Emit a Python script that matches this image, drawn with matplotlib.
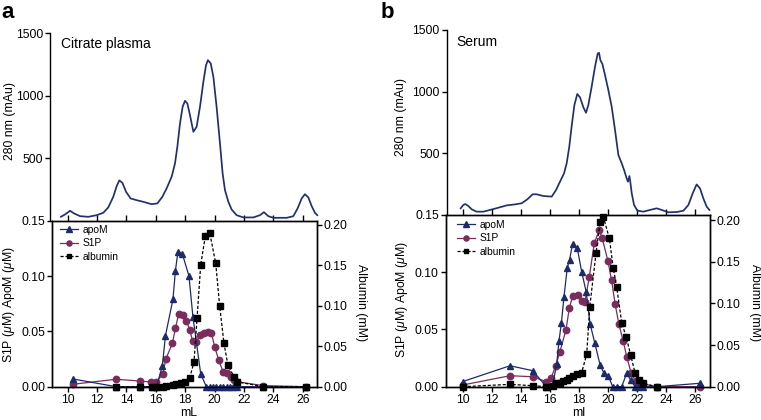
import matplotlib
matplotlib.use("Agg")
import matplotlib.pyplot as plt

plt.rcParams['font.family'] = ['Liberation Sans', 'DejaVu Sans']
plt.rcParams['mathtext.fontset'] = 'custom'
plt.rcParams['mathtext.it'] = 'Liberation Sans:italic'
plt.rcParams['mathtext.rm'] = 'Liberation Sans'

# ---------------- data ----------------
# Panel a: Citrate plasma, UV trace (280 nm, mAu)
a_uv_ml = [9.54, 9.82, 10.16, 10.43, 10.84, 11.40, 11.97, 12.42, 12.76, 13.10, 13.33, 13.51,
           13.72, 13.97, 14.28, 14.69, 15.14, 15.71, 16.10, 16.44, 16.73, 17.07, 17.30, 17.46,
           17.64, 17.82, 17.98, 18.14, 18.32, 18.55, 18.77, 19.00, 19.23, 19.41, 19.54, 19.73,
           19.91, 20.13, 20.36, 20.54, 20.70, 20.93, 21.15, 21.49, 21.95, 22.63, 23.08, 23.35,
           23.65, 23.99, 24.90, 25.35, 25.64, 25.92, 26.14, 26.37, 26.60, 26.82, 26.98]
a_uv_mau = [32, 51, 80, 59, 37, 32, 45, 64, 107, 192, 277, 323,
            304, 232, 179, 165, 152, 133, 139, 192, 259, 352, 459, 592,
            779, 912, 960, 939, 845, 712, 752, 912, 1112, 1245, 1285, 1259,
            1152, 912, 619, 379, 245, 152, 91, 45, 27, 27, 45, 69,
            37, 24, 24, 37, 99, 179, 213, 187, 117, 64, 45]

# Panel a: fractions
a_apom_ml = [10.35, 13.3, 14.95, 15.75, 16.05, 16.44, 16.65, 17.16, 17.33, 17.5, 17.8, 18.25,
             18.52, 19.05, 19.43, 19.66, 19.89, 20.12, 20.35, 20.58, 20.81, 21.04, 21.27, 21.5,
             23.3, 26.2]
a_apom = [0.007, 0.0, 0.0, 0.0, 0.0, 0.019, 0.046, 0.079, 0.105, 0.122, 0.120, 0.100,
          0.063, 0.0115, 0.0, 0.0, 0.0, 0.0, 0.0, 0.0, 0.0, 0.0, 0.0, 0.0,
          0.0, 0.0]
a_s1p_ml = [10.36, 13.27, 14.95, 15.69, 16.03, 16.48, 16.67, 17.12, 17.33, 17.55, 17.84, 18.07,
            18.3, 18.5, 18.75, 19.02, 19.27, 19.54, 19.78, 20.0, 20.27, 20.57, 20.86, 21.09,
            21.3, 21.5, 23.29, 26.2]
a_s1p = [0.0022, 0.0067, 0.0051, 0.0042, 0.0042, 0.0115, 0.0248, 0.0392, 0.0528, 0.0657, 0.0648, 0.0596,
         0.0512, 0.0413, 0.0407, 0.0467, 0.0488, 0.0497, 0.0482, 0.0361, 0.0241, 0.0136, 0.0127, 0.009,
         0.006, 0.0045, 0.001, 0.0]
a_alb_ml = [13.3, 14.95, 15.75, 16.03, 16.48, 16.71, 17.16, 17.39, 17.73, 17.96, 18.3, 18.59,
            18.8, 19.05, 19.37, 19.66, 20.07, 20.34, 20.63, 20.9, 21.31, 21.54, 23.3, 26.2]
a_alb = [0.0, 0.0, 0.0, 0.0, 0.0, 0.0008, 0.0025, 0.0037, 0.005, 0.0062, 0.011, 0.0302,
         0.0846, 0.151, 0.1868, 0.1905, 0.1526, 0.0998, 0.0537, 0.0268, 0.0124, 0.006, 0.0, 0.0]

# Panel b: Serum, UV trace
b_uv_ml = [9.86, 10.04, 10.18, 10.39, 10.62, 10.96, 11.42, 11.88, 12.45, 13.03, 13.60, 14.06,
           14.45, 14.82, 15.09, 15.55, 16.13, 16.43, 16.70, 16.98, 17.16, 17.34, 17.50, 17.69,
           17.89, 18.08, 18.31, 18.49, 18.65, 18.88, 19.11, 19.30, 19.39, 19.48, 19.62, 19.80,
           20.03, 20.26, 20.49, 20.72, 20.95, 21.13, 21.29, 21.38, 21.48, 21.54, 21.64, 21.80,
           22.03, 22.44, 22.90, 23.36, 23.70, 24.16, 24.74, 25.20, 25.54, 25.84, 26.11, 26.34,
           26.57, 26.80, 26.99]
b_uv_mau = [54, 81, 89, 73, 46, 27, 27, 41, 59, 78, 86, 95,
            127, 168, 168, 154, 149, 203, 270, 338, 419, 554, 716, 891,
            981, 954, 873, 829, 891, 1040, 1202, 1310, 1315, 1256, 1224, 1135,
            1013, 878, 689, 486, 419, 359, 297, 270, 316, 270, 176, 81,
            35, 27, 41, 54, 41, 22, 24, 35, 81, 176, 248, 216,
            135, 68, 41]

b_apom_ml = [10.0, 13.26, 14.82, 15.76, 16.2, 16.47, 16.63, 16.8, 16.97, 17.2, 17.36, 17.57,
             17.89, 18.2, 18.5, 18.77, 19.1, 19.46, 19.73, 20.03, 20.33, 20.6, 20.95, 21.29,
             21.57, 21.87, 22.1, 22.44, 23.36, 26.36]
b_apom = [0.0045, 0.0183, 0.014, 0.0, 0.002, 0.0195, 0.040, 0.056, 0.078, 0.104, 0.111, 0.125,
          0.121, 0.100, 0.083, 0.055, 0.038, 0.019, 0.0117, 0.0093, 0.0, 0.0, 0.0, 0.0117,
          0.0058, 0.0, 0.0, 0.0, 0.0, 0.003]
b_s1p_ml = [10.0, 13.26, 14.82, 15.76, 16.1, 16.4, 16.68, 17.11, 17.34, 17.57, 17.91, 18.19,
            18.42, 18.72, 19.06, 19.41, 19.6, 20.0, 20.25, 20.5, 20.75, 21.05, 21.3, 21.6,
            21.9, 22.2, 23.36, 26.36]
b_s1p = [0.0015, 0.0096, 0.0087, 0.0044, 0.008, 0.018, 0.030, 0.0495, 0.0685, 0.0792, 0.080, 0.0751,
         0.0743, 0.0961, 0.1253, 0.1369, 0.130, 0.110, 0.093, 0.072, 0.055, 0.040, 0.026, 0.012,
         0.005, 0.003, 0.0, 0.0]
b_alb_ml = [10.0, 13.26, 14.82, 15.76, 16.2, 16.45, 16.7, 16.93, 17.15, 17.34, 17.62, 17.89,
            18.19, 18.54, 18.75, 19.18, 19.46, 19.68, 20.1, 20.37, 20.6, 20.95, 21.25, 21.57,
            21.87, 22.17, 22.44, 23.36]
b_alb = [0.0, 0.0028, 0.0012, 0.0, 0.001, 0.004, 0.005, 0.0068, 0.0085, 0.01, 0.0128, 0.015,
         0.0168, 0.039, 0.096, 0.160, 0.198, 0.204, 0.178, 0.142, 0.12, 0.077, 0.06, 0.038,
         0.016, 0.008, 0.004, 0.0]

x_ticks = [10, 12, 14, 16, 18, 20, 22, 24, 26]
uv_ticks = [500, 1000, 1500]
left_ticks = [0.0, 0.05, 0.10, 0.15]
right_ticks = [0.0, 0.05, 0.10, 0.15, 0.20]

NAVY = '#1d2a6b'
MAROON = '#7a2c5d'
UVCOL = '#22306e'
TICKSIZE = 8.7

W, H = 761, 420
fig = plt.figure(figsize=(W / 100, H / 100), dpi=100)


def fx(px):
    return px / W


def fy(py):
    return 1 - py / H


def panel(top_box, bot_box, top_xlim, bot_xlim, right_top, uv_x, uv_y, apx, apy, s1x, s1y, alx, aly,
          title, tlabel_xy, letter, letter_xy, ylab_uv_xy, ylab_bot_xy, ylab_r_xy, xlab, xlab_xy, leg_anchor):
    # box: (left_px, top_px, right_px, bottom_px)
    l, t, r, b = bot_box
    axb = fig.add_axes([fx(l), fy(b), (r - l) / W, (b - t) / H])
    l2, t2, r2, b2 = top_box
    axt = fig.add_axes([fx(l2), fy(b2), (r2 - l2) / W, (b2 - t2) / H])
    axt.patch.set_alpha(0)

    # top UV trace
    axt.plot(uv_x, uv_y, color=UVCOL, lw=1.25, clip_on=False)
    axt.set_xlim(*top_xlim)
    axt.set_ylim(0, 1500)
    for s in ['top', 'right', 'bottom']:
        axt.spines[s].set_visible(False)
    axt.spines['left'].set_linewidth(1.0)
    axt.set_yticks(uv_ticks)
    axt.set_yticklabels([str(v) for v in uv_ticks])
    axt.set_xticks(x_ticks)
    axt.tick_params(axis='x', direction='in', length=4, width=1.0, labelbottom=False)
    axt.tick_params(axis='y', direction='out', length=3.5, width=1.0, labelsize=TICKSIZE, pad=1.5)
    fig.text(fx(tlabel_xy[0]), fy(tlabel_xy[1]), title, fontsize=10, ha='left', va='top')

    # bottom axes
    l_ap, = axb.plot(apx, apy, color=NAVY, lw=0.9, marker='^', ms=4.6, mec=NAVY, mfc=NAVY,
                     label='apoM', clip_on=False, zorder=3)
    l_s1, = axb.plot(s1x, s1y, color=MAROON, lw=0.9, marker='o', ms=4.6, mec=MAROON, mfc=MAROON,
                     label='S1P', clip_on=False, zorder=2)
    axb.set_xlim(*bot_xlim)
    axb.set_ylim(0, 0.15)
    axb.set_xticks(x_ticks)
    axb.set_xticklabels([str(v) for v in x_ticks])
    axb.set_yticks(left_ticks)
    axb.set_yticklabels(['%.2f' % v for v in left_ticks])
    axb.tick_params(direction='out', length=3.5, width=1.0, labelsize=TICKSIZE, pad=1.5)
    for s in axb.spines.values():
        s.set_linewidth(1.0)

    axr = axb.twinx()
    l_al, = axr.plot(alx, aly, color='black', lw=0.9, ls=(0, (2.5, 1.5)), marker='s', ms=3.9,
                     mec='black', mfc='black', label='albumin', clip_on=False, zorder=4)
    axr.set_ylim(0, right_top)
    axr.set_yticks(right_ticks)
    axr.set_yticklabels(['%.2f' % v for v in right_ticks])
    axr.tick_params(direction='out', length=3.5, width=1.0, labelsize=TICKSIZE, pad=1.5)
    for s in axr.spines.values():
        s.set_linewidth(1.0)

    axr.legend([l_ap, l_s1, l_al], ['apoM', 'S1P', 'albumin'], loc='upper left',
               bbox_to_anchor=leg_anchor, frameon=False, fontsize=7.4, borderpad=0,
               borderaxespad=0, handlelength=1.8, handletextpad=0.45, labelspacing=0.33,
               markerscale=0.8)

    fig.text(fx(letter_xy[0]), fy(letter_xy[1]), letter, fontsize=16, fontweight='bold',
             ha='left', va='top')
    fig.text(fx(ylab_uv_xy[0]), fy(ylab_uv_xy[1]), '280 nm (mAu)', fontsize=8.8, rotation=90,
             ha='center', va='center')
    fig.text(fx(ylab_bot_xy[0]), fy(ylab_bot_xy[1]), r'S1P ($\mu$M) ApoM ($\mu$M)', fontsize=8.8,
             rotation=90, ha='center', va='center')
    fig.text(fx(ylab_r_xy[0]), fy(ylab_r_xy[1]), 'Albumin (mM)', fontsize=8.8, rotation=270,
             ha='center', va='center')
    fig.text(fx(xlab_xy[0]), fy(xlab_xy[1]), xlab, fontsize=9, ha='center', va='center')


# Panel a
panel(top_box=(50, 33.3, 316.7, 220.8), bot_box=(52, 220.7, 316.7, 386.7),
      top_xlim=(8.796, 26.94), bot_xlim=(8.932, 26.94), right_top=0.2053,
      uv_x=a_uv_ml, uv_y=a_uv_mau, apx=a_apom_ml, apy=a_apom, s1x=a_s1p_ml, s1y=a_s1p,
      alx=a_alb_ml, aly=a_alb, title='Citrate plasma', tlabel_xy=(61, 37),
      letter='a', letter_xy=(1, 2), ylab_uv_xy=(10, 121), ylab_bot_xy=(9, 305),
      ylab_r_xy=(361, 303), xlab='mL', xlab_xy=(189, 413), leg_anchor=(0.03, 0.975))

# Panel b
panel(top_box=(446.7, 30, 710, 215), bot_box=(445.7, 215, 710, 386.7),
      top_xlim=(8.898, 27.03), bot_xlim=(8.829, 27.03), right_top=0.206,
      uv_x=b_uv_ml, uv_y=b_uv_mau, apx=b_apom_ml, apy=b_apom, s1x=b_s1p_ml, s1y=b_s1p,
      alx=b_alb_ml, aly=b_alb, title='Serum', tlabel_xy=(456, 35),
      letter='b', letter_xy=(381, 2), ylab_uv_xy=(401, 117), ylab_bot_xy=(402, 300),
      ylab_r_xy=(755, 303), xlab='ml', xlab_xy=(579, 413), leg_anchor=(0.042, 0.971))

fig.savefig('out.png', dpi=100)
